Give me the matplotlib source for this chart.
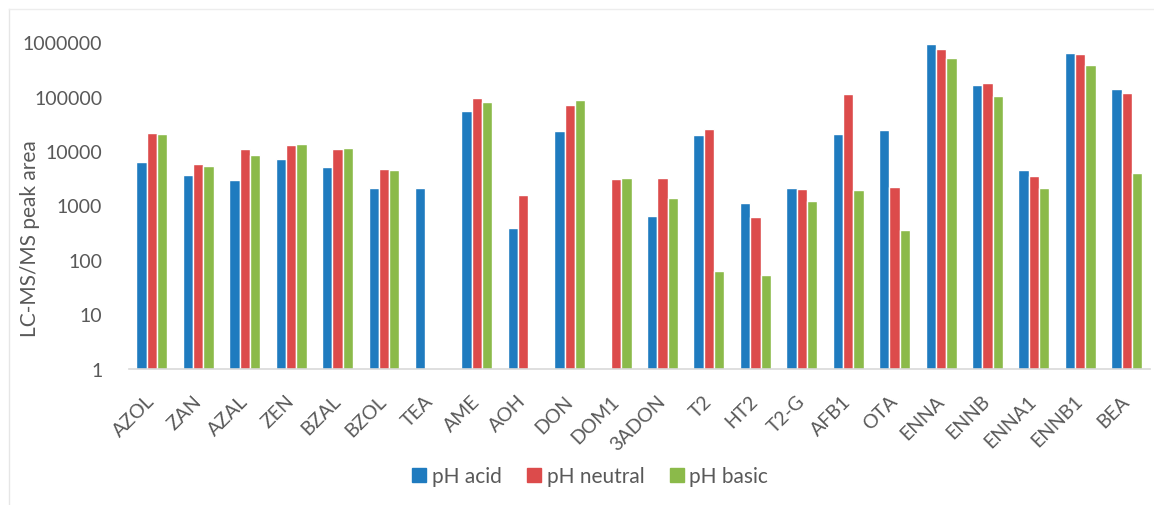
import numpy as np
import matplotlib
matplotlib.use("Agg")
import matplotlib.pyplot as plt
from matplotlib.lines import Line2D

plt.rcParams['font.family'] = ['Lato', 'DejaVu Sans']

# toxins and LC-MS/MS peak areas for the three extraction pH conditions
toxins = ['AZOL', 'ZAN', 'AZAL', 'ZEN', 'BZAL', 'BZOL', 'TEA', 'AME', 'AOH', 'DON',
          'DOM1', '3ADON', 'T2', 'HT2', 'T2-G', 'AFB1', 'OTA', 'ENNA', 'ENNB',
          'ENNA1', 'ENNB1', 'BEA']
ph_acid = [6300, 3700, 3000, 7100, 5200, 2070, 2070, 55500, 380, 23000,
           0, 640, 19900, 1120, 2090, 20800, 24600, 920000, 166000,
           4500, 640000, 140000]
ph_neutral = [21500, 5700, 10800, 13100, 10900, 4630, 0, 96000, 1540, 69500,
              3070, 3200, 25000, 620, 2000, 113000, 2150, 760000, 176000,
              3450, 620000, 118000]
ph_basic = [20400, 5260, 8560, 13700, 11500, 4450, 0, 81000, 0, 85300,
            3160, 1390, 63, 53, 1200, 1900, 354, 505000, 105000,
            2130, 380000, 3970]

series = [('pH acid', ph_acid, '#1F7BBF'),
          ('pH neutral', ph_neutral, '#DC4B4B'),
          ('pH basic', ph_basic, '#8BBA4A')]

txt = '#595959'

fig = plt.figure(figsize=(11.54, 5.06), dpi=100)
ax = fig.add_axes([0.1115, 0.2694, 0.885, 0.645])

x = np.arange(len(toxins))
w = 0.222
for i, (name, vals, col) in enumerate(series):
    v = np.array(vals, dtype=float)
    v[v <= 0] = np.nan
    ax.bar(x + (i - 1) * w, v, width=w, color=col, edgecolor='white',
           linewidth=1.0, label=name)

ax.set_yscale('log')
ax.set_ylim(1, 1e6)
ax.set_xlim(-0.5, len(toxins) - 0.5)
ax.set_yticks([1, 10, 100, 1000, 10000, 100000, 1000000])
ax.set_yticklabels(['1', '10', '100', '1000', '10000', '100000', '1000000'])
ax.yaxis.set_minor_locator(matplotlib.ticker.NullLocator())
ax.set_xticks(x)
ax.set_xticklabels(toxins, rotation=45, ha='right', va='center',
                   rotation_mode='anchor')

for s in ['top', 'right', 'left']:
    ax.spines[s].set_visible(False)
ax.spines['bottom'].set_color('#D9D9D9')
ax.spines['bottom'].set_linewidth(1.2)

ax.tick_params(axis='y', length=0, pad=19, labelsize=14, labelcolor=txt)
ax.tick_params(axis='x', length=0, pad=21, labelsize=14, labelcolor=txt)

fig.text(30 / 1154, 1 - 239 / 506, 'LC-MS/MS peak area', rotation=90,
         ha='center', va='center', fontsize=15, color=txt)

handles = [Line2D([], [], marker='s', linestyle='none', markersize=10,
                  markerfacecolor=c, markeredgecolor=c) for _, _, c in series]
fig.legend(handles, [n for n, _, _ in series], loc='center',
           bbox_to_anchor=(590 / 1154, 1 - 477 / 506), ncol=3, frameon=False,
           fontsize=15, labelcolor=txt, handlelength=0.7, handletextpad=0.25,
           columnspacing=1.2)

# light frame around the chart area
fig.add_artist(Line2D([9 / 1154, 9 / 1154], [0, 1 - 10 / 506],
                      transform=fig.transFigure, color='#E6E6E6', lw=1))
fig.add_artist(Line2D([9 / 1154, 1], [1 - 10 / 506, 1 - 10 / 506],
                      transform=fig.transFigure, color='#EDEDED', lw=1))

fig.savefig('out.png', dpi=100)
